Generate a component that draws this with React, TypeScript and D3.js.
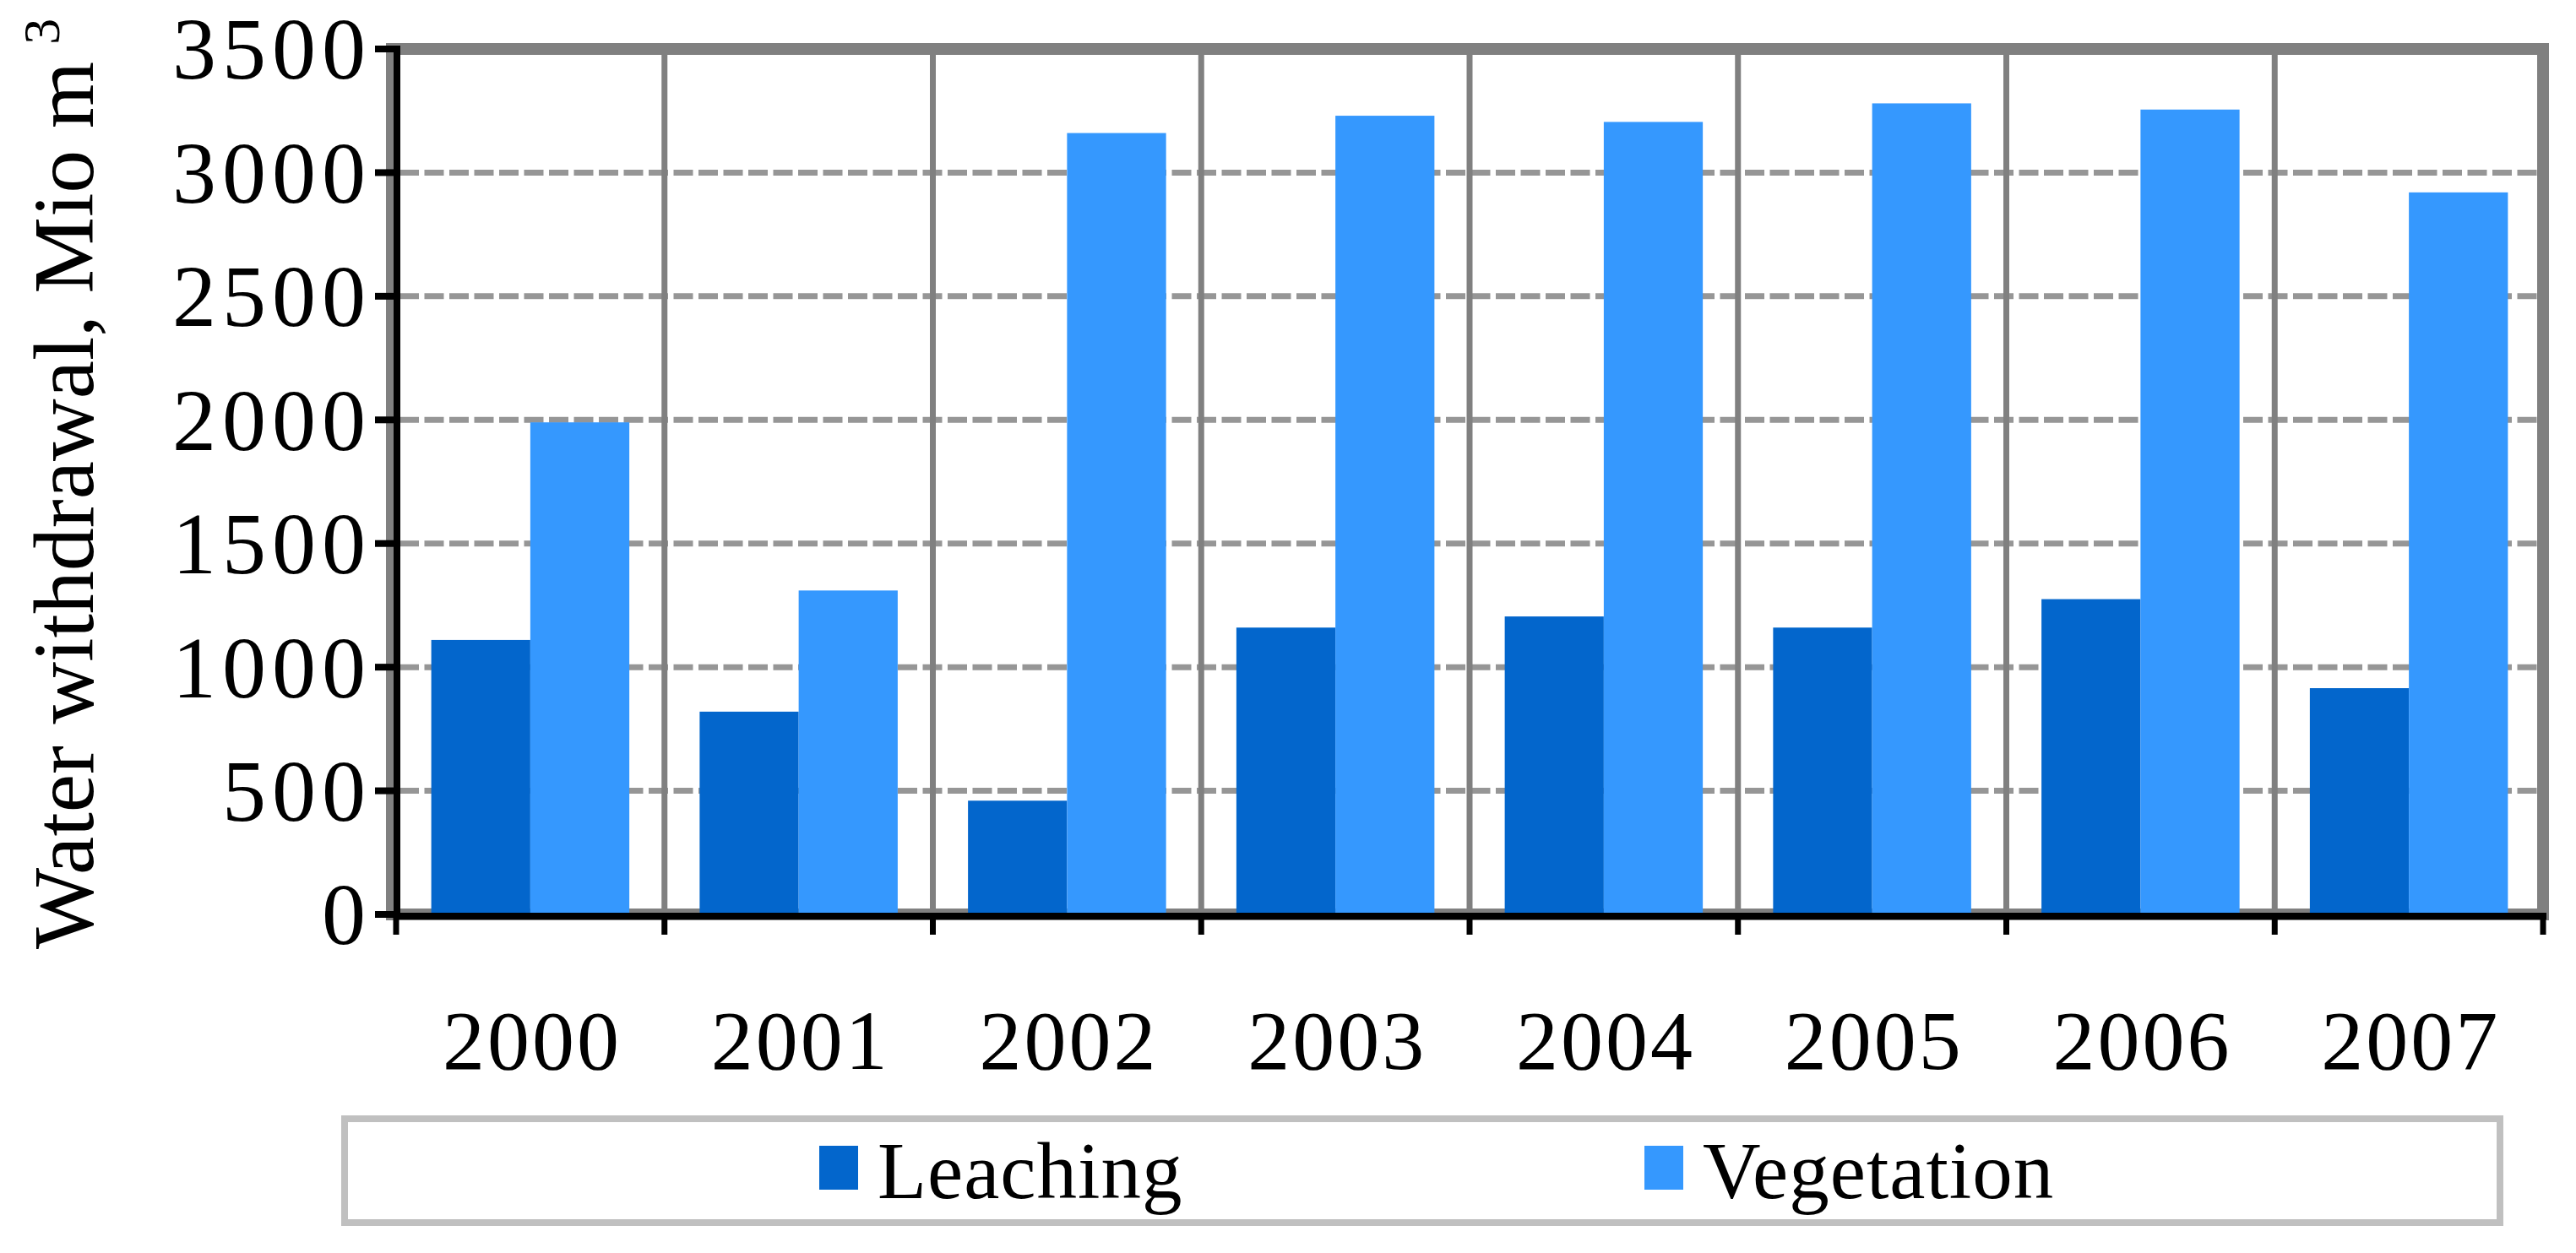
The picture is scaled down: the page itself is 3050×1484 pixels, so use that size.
import React, { useEffect } from "react";
import * as d3 from "d3";

const years = ["2000", "2001", "2002", "2003", "2004", "2005", "2006", "2007"];
const leaching = [1110, 820, 460, 1160, 1205, 1160, 1275, 915];
const vegetation = [1990, 1310, 3160, 3230, 3205, 3280, 3255, 2920];
const seriesNames = ["Leaching", "Vegetation"];
const seriesColors = ["#0366cc", "#3598fe"];
const yTicks = [0, 500, 1000, 1500, 2000, 2500, 3000, 3500];

const W = 3050;
const H = 1484;
const PL = 469;
const PR = 3011;
const PT = 58;
const PB = 1083;
const FONT = "'Liberation Serif', 'Times New Roman', serif";

export default function App() {
  useEffect(() => {
    document.body.style.margin = "0";
  }, []);

  const x = d3.scaleBand<string>().domain(years).range([PL, PR]).padding(0);
  const xs = d3
    .scaleBand<string>()
    .domain(seriesNames)
    .range([0, x.bandwidth()])
    .paddingInner(0)
    .paddingOuter(0.355);
  const y = d3.scaleLinear().domain([0, 3500]).range([PB, PT]);
  const seriesValues = [leaching, vegetation];
  const step = x.step();
  const boundaries = d3.range(years.length + 1).map((i) => PL + i * step);
  const legendX = [970, 1947];

  return (
    <svg width={W} height={H} style={{ display: "block", background: "#fff" }} fontFamily={FONT}>
      {/* horizontal dashed gridlines */}
      {yTicks
        .filter((t) => t !== 0 && t !== 3500)
        .map((t) => (
          <line
            key={"hg" + t}
            x1={PL + 4}
            x2={PR}
            y1={y(t)}
            y2={y(t)}
            stroke="#969696"
            strokeWidth={7}
            strokeDasharray="23,6.5"
          />
        ))}
      {/* vertical gridlines */}
      {boundaries.slice(1, -1).map((bx, i) => (
        <line key={"vg" + i} x1={bx} x2={bx} y1={PT} y2={PB} stroke="#808080" strokeWidth={7} />
      ))}
      {/* plot border */}
      <rect x={PL - 5} y={PT} width={PR - PL + 5} height={PB - PT} fill="none" stroke="#808080" strokeWidth={14} />
      {/* bars */}
      {years.map((yr, i) => (
        <g key={"bars" + yr}>
          {seriesNames.map((s, j) => (
            <rect
              key={s}
              x={(x(yr) as number) + (xs(s) as number)}
              y={y(seriesValues[j][i])}
              width={xs.bandwidth()}
              height={y(0) - y(seriesValues[j][i])}
              fill={seriesColors[j]}
            />
          ))}
        </g>
      ))}
      {/* axes */}
      <line x1={PL + 1} x2={PL + 1} y1={PT - 4} y2={PB + 6} stroke="#000" strokeWidth={8} />
      <line x1={PL - 3} x2={PR + 4} y1={PB + 2} y2={PB + 2} stroke="#000" strokeWidth={8} />
      {yTicks.map((t) => (
        <line key={"yt" + t} x1={PL - 25} x2={PL} y1={y(t)} y2={y(t)} stroke="#000" strokeWidth={8} />
      ))}
      {boundaries.map((bx, i) => (
        <line key={"xt" + i} x1={bx} x2={bx} y1={PB} y2={PB + 24} stroke="#000" strokeWidth={7} />
      ))}
      {/* y tick labels */}
      {yTicks.map((t) => (
        <text
          key={"yl" + t}
          x={440}
          y={y(t)}
          dy="0.34em"
          textAnchor="end"
          fontSize={104}
          letterSpacing={7}
          fill="#000"
        >
          {t}
        </text>
      ))}
      {/* x tick labels */}
      {years.map((yr) => (
        <text
          key={"xl" + yr}
          x={(x(yr) as number) + x.bandwidth() / 2 + 2}
          y={1266}
          textAnchor="middle"
          fontSize={100}
          letterSpacing={3}
          fill="#000"
        >
          {yr}
        </text>
      ))}
      {/* y axis title */}
      <text transform="translate(110,1124) rotate(-90)" fontSize={102} fill="#000">
        Water withdrawal, Mio m
        <tspan dx={20} dy={-40} fontSize={62}>
          3
        </tspan>
      </text>
      {/* legend */}
      <rect x={408} y={1325} width={2552} height={123} fill="#fff" stroke="#c0c0c0" strokeWidth={8} />
      {seriesNames.map((s, j) => (
        <g key={"lg" + s}>
          <rect x={legendX[j]} y={1357} width={46} height={52} fill={seriesColors[j]} />
          <text x={legendX[j] + 69} y={1419} fontSize={95} fill="#000" letterSpacing={1}>
            {s}
          </text>
        </g>
      ))}
    </svg>
  );
}
